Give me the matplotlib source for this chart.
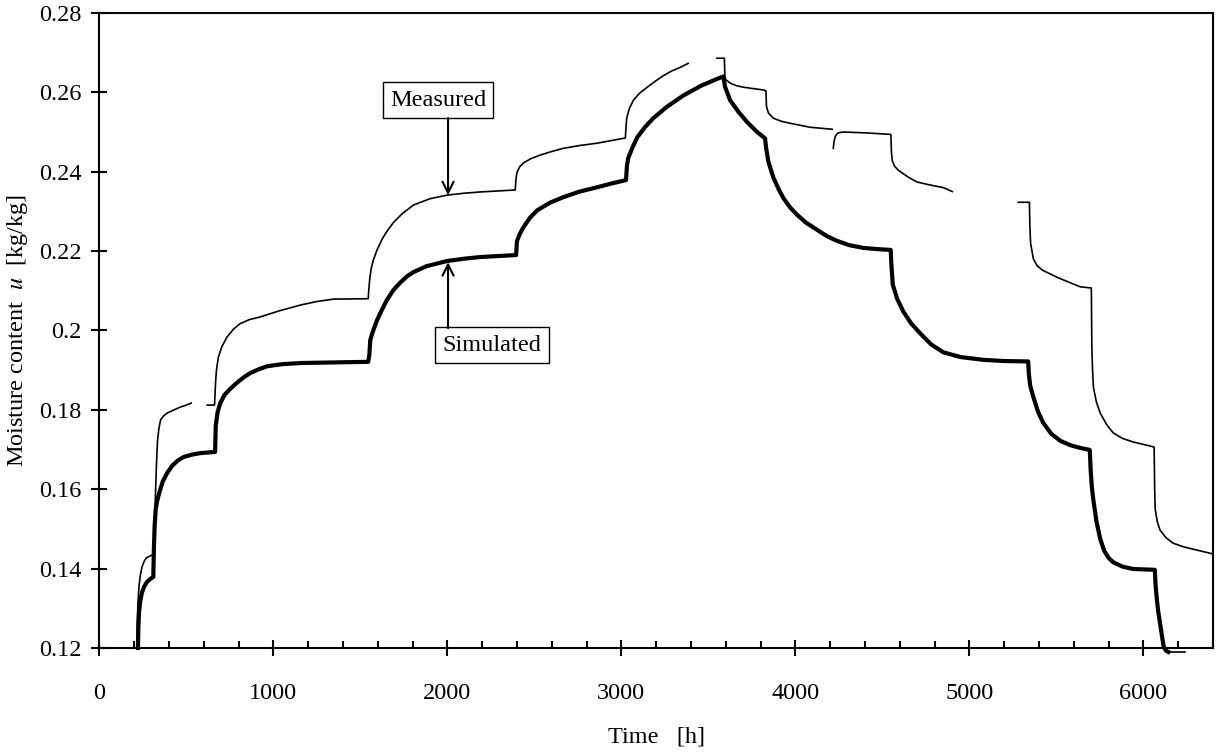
import matplotlib
matplotlib.use("Agg")
import matplotlib.pyplot as plt
from matplotlib.ticker import MultipleLocator, FixedLocator

plt.rcParams['font.family'] = ['Liberation Serif', 'DejaVu Serif']
plt.rcParams['mathtext.fontset'] = 'stix'

# simulated moisture content (thick line)
sim_t = [222, 224, 228, 235, 245, 258, 273, 290, 310,
         314, 318, 324, 332, 345, 365, 390, 420, 450, 483, 530, 580, 665,
         669, 680, 695, 720, 750, 790, 830, 868, 920, 966, 1050, 1155, 1545,
         1552, 1557, 1570, 1596, 1625, 1653, 1690, 1730, 1770, 1805, 1880, 1998, 2100, 2188, 2395,
         2400, 2415, 2437, 2475, 2517, 2590, 2667, 2760, 2862, 2950, 3027,
         3032, 3040, 3065, 3092, 3135, 3184, 3260, 3356, 3460, 3551, 3586,
         3596, 3625, 3673, 3721, 3778, 3826,
         3832, 3845, 3874, 3905, 3932, 3970, 4009, 4060, 4124, 4180, 4238, 4310, 4391, 4470, 4548,
         4552, 4560, 4585, 4620, 4665, 4717, 4780, 4850, 4950, 5080, 5200, 5338,
         5342, 5350, 5368, 5395, 5425, 5470, 5523, 5580, 5638, 5692,
         5697, 5703, 5712, 5730, 5752, 5775, 5800, 5827, 5880, 5942, 6066,
         6070, 6078, 6086, 6100, 6116, 6130, 6144]
sim_u = [0.1200, 0.1250, 0.1290, 0.1318, 0.1340, 0.1355, 0.1366, 0.1373, 0.1379,
         0.1460, 0.1510, 0.1550, 0.1570, 0.1592, 0.1620, 0.1641, 0.1660, 0.1672, 0.1681, 0.1687, 0.1691, 0.1694,
         0.1760, 0.1795, 0.1817, 0.1838, 0.1852, 0.1868, 0.1882, 0.1893, 0.1903, 0.1910, 0.1915, 0.1918, 0.1921,
         0.1940, 0.1976, 0.1995, 0.2026, 0.2053, 0.2077, 0.2102, 0.2121, 0.2137, 0.2147, 0.2162, 0.2175, 0.2181, 0.2185, 0.2190,
         0.2225, 0.2242, 0.2260, 0.2284, 0.2303, 0.2322, 0.2336, 0.2350, 0.2361, 0.2371, 0.2379,
         0.2415, 0.2435, 0.2462, 0.2487, 0.2512, 0.2535, 0.2563, 0.2592, 0.2617, 0.2634, 0.2640,
         0.2614, 0.2580, 0.2551, 0.2526, 0.2501, 0.2484,
         0.2460, 0.2425, 0.2385, 0.2355, 0.2333, 0.2310, 0.2292, 0.2272, 0.2254, 0.2238, 0.2226, 0.2215, 0.2208, 0.2205, 0.2203,
         0.2165, 0.2115, 0.2080, 0.2048, 0.2018, 0.1993, 0.1965, 0.1945, 0.1933, 0.1926, 0.1923, 0.1922,
         0.1890, 0.1860, 0.1832, 0.1795, 0.1767, 0.1740, 0.1722, 0.1711, 0.1704, 0.1699,
         0.1650, 0.1610, 0.1575, 0.1520, 0.1475, 0.1445, 0.1427, 0.1416, 0.1405, 0.1399, 0.1397,
         0.1360, 0.1320, 0.1290, 0.1250, 0.1205, 0.1193, 0.1190]
sim_tail_t = [6144, 6240]
sim_tail_u = [0.1190, 0.1190]

# measured moisture content (thin line, with gaps)
meas_t1 = [216, 218, 222, 228, 235, 245, 257, 270, 302, 311, 316, 322, 328, 334, 342, 352,
           370, 390, 430, 465, 500, 528]
meas_u1 = [0.1200, 0.1260, 0.1315, 0.1355, 0.1382, 0.1404, 0.1418, 0.1427, 0.1434, 0.1436,
           0.1500, 0.1580, 0.1660, 0.1720, 0.1752, 0.1775, 0.1785, 0.1792, 0.1800, 0.1807,
           0.1812, 0.1817]

meas_t2 = [620, 662, 665, 668, 673, 684, 705, 733, 770, 808, 860, 923, 1038, 1155, 1250, 1345,
           1545, 1549, 1554, 1562, 1575, 1596, 1625, 1653, 1690, 1740, 1805, 1900, 1998, 2100,
           2188, 2390, 2394, 2400, 2415, 2437, 2480, 2534, 2600, 2667, 2760, 2862, 3023, 3027,
           3031, 3045, 3069, 3105, 3149, 3195, 3241, 3290, 3339, 3384]
meas_u2 = [0.1812, 0.1812, 0.1840, 0.1870, 0.1900, 0.1933, 0.1960, 0.1983, 0.2003, 0.2017,
           0.2027, 0.2034, 0.2050, 0.2064, 0.2073, 0.2079, 0.2080, 0.2105, 0.2130, 0.2155,
           0.2178, 0.2203, 0.2230, 0.2250, 0.2272, 0.2294, 0.2316, 0.2332, 0.2341, 0.2346,
           0.2349, 0.2354, 0.2380, 0.2398, 0.2412, 0.2422, 0.2433, 0.2442, 0.2451, 0.2459,
           0.2466, 0.2472, 0.2485, 0.2515, 0.2535, 0.2558, 0.2580, 0.2598, 0.2613, 0.2628,
           0.2642, 0.2654, 0.2663, 0.2673]

meas_t3 = [3549, 3592, 3595, 3600, 3626, 3660, 3700, 3815, 3831, 3834, 3845, 3873, 3920, 3971,
           4085, 4212]
meas_u3 = [0.2686, 0.2686, 0.2640, 0.2632, 0.2623, 0.2617, 0.2613, 0.2606, 0.2604, 0.2565,
           0.2548, 0.2535, 0.2527, 0.2522, 0.2512, 0.2507]

meas_t4 = [4218, 4222, 4230, 4245, 4276, 4400, 4549, 4552, 4557, 4570, 4591, 4650, 4700, 4780,
           4850, 4902]
meas_u4 = [0.2459, 0.2475, 0.2490, 0.2498, 0.2500, 0.2498, 0.2494, 0.2450, 0.2428, 0.2414,
           0.2404, 0.2386, 0.2374, 0.2366, 0.2360, 0.2350]

meas_t5 = [5281, 5345, 5348, 5352, 5368, 5390, 5420, 5504, 5570, 5638, 5701, 5704, 5708, 5713,
           5730, 5752, 5790, 5827, 5880, 5942, 6039, 6062, 6065, 6068, 6080, 6096, 6130, 6171,
           6230, 6286, 6400]
meas_u5 = [0.2323, 0.2323, 0.2260, 0.2220, 0.2180, 0.2163, 0.2152, 0.2134, 0.2122, 0.2110,
           0.2107, 0.1958, 0.1900, 0.1857, 0.1820, 0.1792, 0.1762, 0.1742, 0.1728, 0.1719,
           0.1709, 0.1706, 0.1600, 0.1550, 0.1518, 0.1497, 0.1478, 0.1464, 0.1455, 0.1449,
           0.1437]

x_ticks = [0, 1000, 2000, 3000, 4000, 5000, 6000]
y_ticks = [0.12, 0.14, 0.16, 0.18, 0.20, 0.22, 0.24, 0.26, 0.28]
y_labels = ['0.12', '0.14', '0.16', '0.18', '0.2', '0.22', '0.24', '0.26', '0.28']

fig = plt.figure(figsize=(12.16, 7.54), dpi=100)
ax = fig.add_axes([0.0817, 0.1406, 0.9158, 0.8422])

ax.plot(sim_t, sim_u, color='black', lw=3.0, solid_joinstyle='round', clip_on=False, zorder=3)
ax.plot(sim_tail_t, sim_tail_u, color='black', lw=1.2, clip_on=False, zorder=3)
for t, u in [(meas_t1, meas_u1), (meas_t2, meas_u2), (meas_t3, meas_u3),
             (meas_t4, meas_u4), (meas_t5, meas_u5)]:
    ax.plot(t, u, color='black', lw=1.2, solid_joinstyle='round', zorder=3)

ax.set_xlim(0, 6400)
ax.set_ylim(0.12, 0.28)

ax.set_xticks(x_ticks)
ax.set_xticklabels([str(v) for v in x_ticks])
ax.xaxis.set_minor_locator(MultipleLocator(200))
ax.yaxis.set_major_locator(FixedLocator(y_ticks))
ax.set_yticklabels(y_labels)

ax.tick_params(axis='x', which='major', direction='inout', length=11, width=1.5,
               labelsize=17.5, pad=20)
ax.tick_params(axis='x', which='minor', direction='in', length=5, width=1.5)
ax.tick_params(axis='y', which='major', direction='inout', length=12, width=1.5,
               labelsize=17.5, pad=7)
for sp in ax.spines.values():
    sp.set_linewidth(1.5)

ax.set_xlabel('Time   [h]', fontsize=17.5, labelpad=16)
ax.set_ylabel('Moisture content  $u$  [kg/kg]', fontsize=17.5, labelpad=6)

# annotation boxes with arrows
box = dict(boxstyle='square,pad=0.3', facecolor='white', edgecolor='black', lw=1.0)
ax.text(1947, 0.2580, 'Measured', fontsize=17.5, ha='center', va='center', bbox=box)
ax.annotate('', xy=(2004, 0.2341), xytext=(2004, 0.2535),
            arrowprops=dict(arrowstyle='->', lw=1.5, color='black', mutation_scale=20,
                            shrinkA=0, shrinkB=0))
ax.text(2257, 0.1963, 'Simulated', fontsize=17.5, ha='center', va='center', bbox=box)
ax.annotate('', xy=(2004, 0.2172), xytext=(2004, 0.2006),
            arrowprops=dict(arrowstyle='->', lw=1.5, color='black', mutation_scale=20,
                            shrinkA=0, shrinkB=0))

fig.savefig('out.png', dpi=100)
